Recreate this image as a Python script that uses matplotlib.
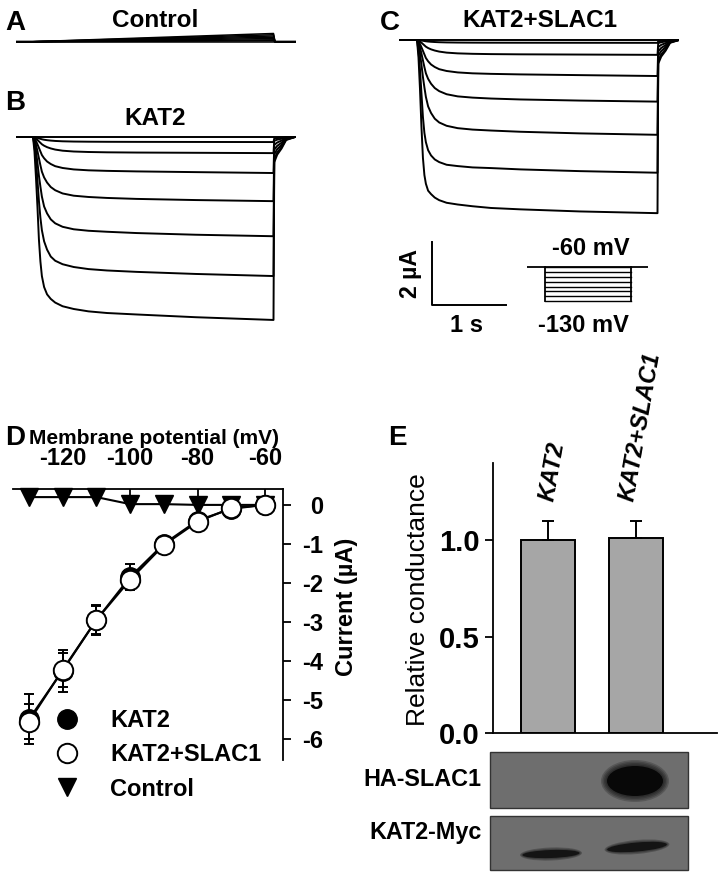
import numpy as np
import matplotlib
matplotlib.use("Agg")
import matplotlib.pyplot as plt
from matplotlib.lines import Line2D
from matplotlib.patches import Rectangle, Ellipse

plt.rcParams["font.family"] = ["Liberation Sans", "DejaVu Sans"]
plt.rcParams["font.weight"] = "bold"
plt.rcParams["axes.unicode_minus"] = False

W, H = 721, 874
PX_S = 74.0     # pixels per second in the trace panels
PX_UA = 31.6    # pixels per uA in the trace panels

# ---- current traces: steady amplitude (uA) and activation time course ----
trace_t = [0, 0.02, 0.04, 0.06, 0.08, 0.1, 0.12, 0.15, 0.19, 0.24, 0.3, 0.4,
           0.55, 0.75, 1.0, 1.4, 2.2, 3.25]
act_profiles = [
    [0, .04, .1, .18, .27, .36, .45, .54, .63, .71, .78, .85, .9, .93, .95, .965, .98, 1],
    [0, .04, .1, .18, .27, .36, .45, .54, .63, .71, .78, .85, .9, .93, .95, .965, .98, 1],
    [0, .04, .1, .18, .27, .36, .45, .54, .63, .71, .78, .85, .9, .93, .95, .965, .98, 1],
    [0, .04, .11, .2, .3, .4, .5, .59, .68, .75, .81, .86, .9, .925, .94, .955, .975, 1],
    [0, .04, .12, .22, .33, .44, .54, .63, .71, .78, .83, .88, .915, .935, .95, .965, .983, 1],
    [0, .05, .14, .26, .39, .5, .6, .7, .77, .83, .87, .905, .93, .945, .955, .968, .985, 1],
    [0, .06, .17, .31, .46, .58, .67, .75, .81, .86, .89, .915, .935, .95, .96, .97, .985, 1],
    [0, .08, .22, .38, .56, .68, .76, .82, .86, .885, .905, .925, .94, .953, .962, .97, .985, 1],
]
slac_fast_profiles = [
    [0, .08, .22, .4, .58, .7, .77, .83, .87, .9, .92, .94, .95, .96, .965, .975, .988, 1],
    [0, .1, .28, .5, .68, .78, .83, .87, .89, .91, .925, .94, .95, .96, .97, .978, .99, 1],
]
kat2_amp = [0, -0.16, -0.51, -1.14, -2.03, -3.14, -4.4, -5.79]
kat2_tails = [0, -0.05, -0.12, -0.25, -0.4, -0.55, -0.7, -0.8]
slac_amp = [0, -0.09, -0.47, -1.14, -1.95, -3.0, -4.2, -5.48]
slac_tails = [0, -0.04, -0.1, -0.22, -0.36, -0.5, -0.65, -0.75]

tail_t = [3.26, 3.3, 3.36, 3.42, 3.54]
tail_frac = [1, 0.7, 0.45, 0.12, 0]

control_end = [0.0, 0.03, 0.06, 0.1, 0.14, 0.18, 0.22, 0.26]

# ---- voltage protocol and scale bars ----
step_mv = [-60, -70, -80, -90, -100, -110, -120, -130]
pulse_s = 3.25
scale_s = 1.0
scale_ua = 2.0

# ---- I-V curve ----
voltages = [-130, -120, -110, -100, -90, -80, -70, -60]
kat2_i = [-5.5, -4.25, -2.95, -1.85, -1.0, -0.4, -0.1, 0.0]
kat2_err = [0.64, 0.54, 0.39, 0.34, 0.12, 0.08, 0.05, 0.02]
slac_i = [-5.56, -4.23, -2.95, -1.92, -1.03, -0.43, -0.08, 0.0]
slac_err = [0.45, 0.44, 0.36, 0.2, 0.15, 0.1, 0.05, 0.02]
control_i = [0.2, 0.2, 0.2, 0.02, 0.02, 0.0, 0.0, 0.0]

# ---- relative conductance ----
bar_labels = ["KAT2", "KAT2+SLAC1"]
bar_values = [1.0, 1.01]
bar_err = [0.1, 0.09]


fig = plt.figure(figsize=(W / 100, H / 100), dpi=100)


def px_axes(x0, y0, x1, y1):
    return fig.add_axes([x0 / W, 1 - y1 / H, (x1 - x0) / W, (y1 - y0) / H])


def ftext(x, y, s, **kw):
    fig.text(x / W, 1 - y / H, s, **kw)


def trace_axes(x0, y0, x1, y1, onset_x, base_y):
    ax = px_axes(x0, y0, x1, y1)
    ax.set_xlim((x0 - onset_x) / PX_S, (x1 - onset_x) / PX_S)
    ax.set_ylim(-(y1 - base_y) / PX_UA, (base_y - y0) / PX_UA)
    ax.axis("off")
    return ax


def draw_traces(ax, amps, profiles, tails):
    t0, t1 = ax.get_xlim()
    for amp, prof, tail in zip(amps, profiles, tails):
        t = [t0] + trace_t + tail_t + [t1]
        i = [0] + [amp * p for p in prof] + [tail * f for f in tail_frac] + [0]
        ax.plot(t, i, color="black", lw=1.4, solid_joinstyle="round")


# A: control
axa = trace_axes(16, 25, 296, 50, 33, 41.7)
t0, t1 = axa.get_xlim()
for v in control_end:
    axa.plot([t0, 0, pulse_s, pulse_s + 0.02, t1], [0, 0, v, 0, 0],
             color="black", lw=1.1)

# B: KAT2
axb = trace_axes(16, 125, 296, 330, 33, 137)
draw_traces(axb, kat2_amp, act_profiles, kat2_tails)

# C: KAT2+SLAC1
axc = trace_axes(399, 28, 679, 225, 417, 40)
draw_traces(axc, slac_amp, act_profiles[:6] + slac_fast_profiles, slac_tails)

# scale bars
axs = trace_axes(400, 235, 520, 312, 431.7, 305)
axs.plot([0, 0, scale_s], [scale_ua, 0, 0], color="black", lw=1.4)

# protocol
axp = px_axes(527, 262, 648, 305)
axp.set_xlim(-0.68, 3.89)
axp.set_ylim(-138.3, -49)
axp.axis("off")
axp.plot(axp.get_xlim(), [step_mv[0]] * 2, color="black", lw=1.3)
for v in step_mv:
    axp.plot([0, pulse_s], [v, v], color="black", lw=1.0)
axp.plot([0, 0], [step_mv[0], step_mv[-1]], color="black", lw=1.3)
axp.plot([pulse_s, pulse_s], [step_mv[0], step_mv[-1]], color="black", lw=1.3)

# D: I-V
axd = px_axes(13, 489.3, 283.3, 760)
axd.set_xlim(-134.7, -54.6)
axd.set_ylim(-6.54, 0.4)
axd.spines["left"].set_visible(False)
axd.spines["bottom"].set_visible(False)
axd.spines["top"].set_linewidth(1.3)
axd.spines["right"].set_linewidth(1.3)
axd.xaxis.tick_top()
axd.yaxis.tick_right()
axd.set_xticks([-120, -100, -80, -60])
axd.set_yticks(range(-6, 1))
axd.tick_params(axis="x", direction="in", length=5, width=1.3, pad=14, labelsize=17)
axd.tick_params(axis="y", direction="out", length=6, width=1.3, pad=23, labelsize=17)
for lab in axd.get_yticklabels():
    lab.set_ha("right")

axd.plot(voltages, control_i, color="black", lw=1.5, marker="v", ms=13,
         mfc="black", mec="black", clip_on=False, zorder=3)
axd.errorbar(voltages, kat2_i, yerr=kat2_err, fmt="none", ecolor="black",
             elinewidth=1.4, capsize=3.6, capthick=1.4, zorder=2)
axd.plot(voltages, kat2_i, color="black", lw=1.5, marker="o", ms=14,
         mfc="black", mec="black", clip_on=False, zorder=3)
axd.errorbar(voltages, slac_i, yerr=slac_err, fmt="none", ecolor="black",
             elinewidth=1.4, capsize=3.6, capthick=1.4, zorder=2)
axd.plot(voltages, slac_i, color="black", lw=1.5, marker="o", ms=14,
         mfc="white", mec="black", mew=1.4, clip_on=False, zorder=4)

handles = [
    Line2D([], [], ls="none", marker="o", ms=14, mfc="black", mec="black"),
    Line2D([], [], ls="none", marker="o", ms=14, mfc="white", mec="black", mew=1.4),
    Line2D([], [], ls="none", marker="v", ms=13, mfc="black", mec="black"),
]
axd.legend(handles, ["KAT2", "KAT2+SLAC1", "Control"], loc="upper left",
           bbox_to_anchor=(43 / W, 1 - 709 / H), bbox_transform=fig.transFigure,
           frameon=False, fontsize=17, borderpad=0, borderaxespad=0,
           handlelength=2.0, handletextpad=0.85, labelspacing=0.48)

ftext(154, 443.5, "Membrane potential (mV)", ha="center", va="baseline", fontsize=15)
ftext(347, 607, "Current (\u00b5A)", ha="center", va="center", rotation=90, fontsize=17)

# E: conductance bars
axe = px_axes(493.3, 462.7, 716.7, 733.3)
axe.set_xlim(0.38, 2.916)
axe.set_ylim(0, 1.4)
bx = np.arange(1, len(bar_labels) + 1)
axe.bar(bx, bar_values, width=0.616, color="#a6a6a6", edgecolor="black", lw=1.4,
        yerr=[[0] * len(bar_err), bar_err], capsize=4.3,
        error_kw=dict(elinewidth=1.4, capthick=1.4))
for s in ["top", "right"]:
    axe.spines[s].set_visible(False)
axe.spines["left"].set_linewidth(1.3)
axe.spines["bottom"].set_linewidth(1.3)
axe.set_xticks([])
axe.set_yticks([0, 0.5, 1.0])
axe.set_yticklabels(["0.0", "0.5", "1.0"])
axe.tick_params(axis="y", direction="out", length=6, width=1.3, pad=3.6, labelsize=21)
for x, lab in zip(bx, bar_labels):
    axe.text(x + 0.05, 1.19, lab, rotation=80, ha="center", va="bottom",
             style="italic", fontsize=17)
ftext(418, 600, "Relative conductance", ha="center", va="center", rotation=90,
      fontsize=19, fontweight="normal")

# western blots
ov = fig.add_axes([0, 0, 1, 1])
ov.set_xlim(0, W)
ov.set_ylim(H, 0)
ov.axis("off")
for y0, y1 in [(752.3, 807.7), (816, 870)]:
    ov.add_patch(Rectangle((490, y0), 198.3, y1 - y0, facecolor="#6e6e6e",
                           edgecolor="#333333", lw=1))
for grow in [12, 9, 6, 3]:
    ov.add_patch(Ellipse((635, 781), 56 + grow, 30 + grow, color="black", alpha=0.2, lw=0))
ov.add_patch(Ellipse((635, 781), 56, 30, color="#080808", lw=0))
for cx, cy, w, h, ang in [(551, 854, 57, 8, -2), (637, 847, 60, 9, -5)]:
    for grow in [5, 2.5]:
        ov.add_patch(Ellipse((cx, cy), w + grow, h + grow, angle=ang, color="black",
                             alpha=0.25, lw=0))
    ov.add_patch(Ellipse((cx, cy), w, h, angle=ang, color="#141414", lw=0))
ftext(481.7, 780, "HA-SLAC1", ha="right", va="center", fontsize=16.8)
ftext(481.7, 833, "KAT2-Myc", ha="right", va="center", fontsize=16.8)

# titles, scale text and panel letters
ftext(155, 27, "Control", ha="center", va="baseline", fontsize=17.5)
ftext(155, 125, "KAT2", ha="center", va="baseline", fontsize=17.5)
ftext(540, 26.7, "KAT2+SLAC1", ha="center", va="baseline", fontsize=17.5)
ftext(410.5, 273, "2 \u00b5A", ha="center", va="center", rotation=90, fontsize=16.6)
ftext(466.7, 332, "1 s", ha="center", va="baseline", fontsize=17)
ftext(590.8, 255, "-60 mV", ha="center", va="baseline", fontsize=17)
ftext(583, 332, "-130 mV", ha="center", va="baseline", fontsize=17)
for x, y, s in [(5, 30, "A"), (5, 110, "B"), (380, 30, "C"), (5, 445, "D"), (388, 445, "E")]:
    ftext(x, y, s, ha="left", va="baseline", fontsize=20)

fig.savefig("out.png", dpi=100)
